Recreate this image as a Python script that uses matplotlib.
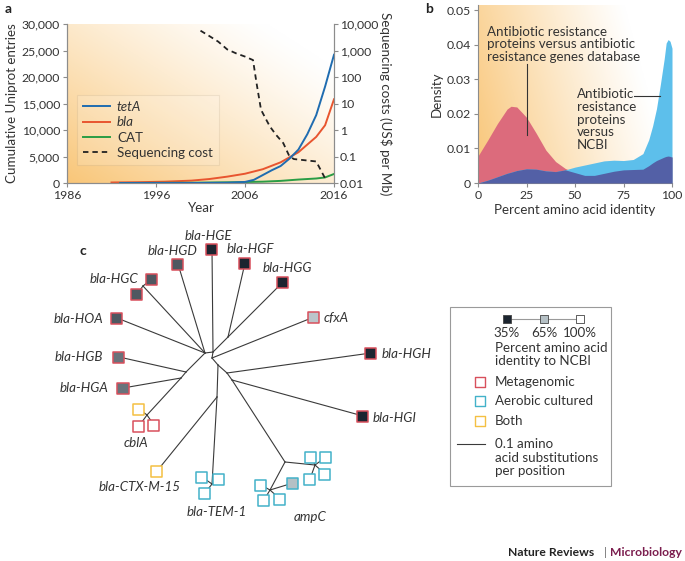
import numpy as np
import matplotlib
matplotlib.use("Agg")
import matplotlib.pyplot as plt
from matplotlib.lines import Line2D
from matplotlib.patches import Rectangle
from matplotlib.colors import LinearSegmentedColormap

plt.rcParams['font.family'] = ['Lato', 'DejaVu Sans']
TXT = '#333333'
SPINE = '#8c8c8c'

# ---- panel a data
tet_years = [1992, 2000, 2004, 2006, 2007, 2008, 2009, 2010, 2011, 2012, 2013, 2014, 2015, 2016]
tet_vals = [0, 0, 50, 200, 600, 1500, 2400, 3200, 4600, 6300, 9200, 12800, 18200, 24200]
bla_years = [1991, 1994, 1997, 2000, 2002, 2004, 2006, 2008, 2010, 2012, 2014, 2015, 2016]
bla_vals = [100, 150, 250, 450, 750, 1200, 1750, 2600, 3900, 5800, 8700, 10900, 15800]
cat_years = [1992, 2000, 2005, 2008, 2010, 2012, 2013, 2014, 2015, 2016]
cat_vals = [0, 50, 150, 250, 400, 650, 750, 850, 1050, 1700]
seq_years = [2001, 2002, 2003, 2004, 2005, 2006, 2006.9, 2007.3, 2007.8, 2008.4, 2008.8,
             2009.5, 2010.3, 2011, 2011.5, 2014, 2015]
seq_cost = [5600, 3500, 2150, 1100, 780, 590, 435, 58, 5.8, 2.4, 1.35,
            0.65, 0.32, 0.1, 0.08, 0.065, 0.015]

# ---- panel b data
pct = [0, 5, 10, 15, 17, 20, 25, 30, 35, 40, 45, 50, 55, 60, 65, 70, 75, 80, 85,
       88, 90, 92, 94, 96, 97, 98, 99, 100]
dens_arg = [0.0078, 0.0124, 0.0172, 0.0214, 0.0222, 0.0220, 0.0190, 0.0144, 0.0095,
            0.0062, 0.0042, 0.0030, 0.0022, 0.0022, 0.0028, 0.0034, 0.0038, 0.0039,
            0.0040, 0.0050, 0.0058, 0.0065, 0.0070, 0.0075, 0.0077, 0.0078, 0.0077, 0.0075]
dens_ncbi = [0.0, 0.0008, 0.0018, 0.0028, 0.0031, 0.0036, 0.0041, 0.0040, 0.0035,
             0.0033, 0.0038, 0.0046, 0.0052, 0.0058, 0.0064, 0.0066, 0.0065, 0.0068,
             0.0085, 0.0125, 0.0165, 0.0215, 0.0285, 0.036, 0.0405, 0.0415, 0.041, 0.039]

# ---- panel c tree (layout, pixel units)
nodes = {
    'A': (205, 353), 'B': (213, 352), 'C': (212, 358), 'D': (218, 365),
    'E': (227, 373), 'F': (232, 380), 'G': (217, 397), 'P1': (186, 372),
    'P2': (181, 378), 'hgc': (143, 286), 'fg': (228, 337), 'cbl': (147, 415),
    'tem': (212, 484), 'amp': (285, 462), 'amp1': (315, 465), 'amp2': (270, 490),
}
# leaf: name, x, y, percent identity to NCBI, source
leaves = [
    ('HGE', 212, 249, 35, 'M'), ('HGD', 178, 264, 45, 'M'), ('HGF', 245, 263, 35, 'M'),
    ('HGG', 283, 282, 35, 'M'), ('HGC1', 152, 279, 45, 'M'), ('HGC2', 137, 294, 45, 'M'),
    ('HOA', 117, 318, 45, 'M'), ('HGB', 119, 357, 50, 'M'), ('HGA', 123, 388, 50, 'M'),
    ('cfxA', 314, 317, 68, 'M'), ('HGH', 371, 353, 35, 'M'), ('HGI', 363, 416, 35, 'M'),
    ('cbl1', 139, 409, 100, 'B'), ('cbl2', 139, 426, 100, 'M'), ('cbl3', 154, 425, 100, 'M'),
    ('CTX', 157, 471, 100, 'B'),
    ('tem1', 202, 477, 100, 'A'), ('tem2', 219, 479, 100, 'A'), ('tem3', 205, 493, 100, 'A'),
    ('ampa', 311, 457, 100, 'A'), ('ampb', 326, 457, 100, 'A'), ('ampc', 310, 479, 100, 'A'),
    ('ampd', 325, 474, 100, 'A'), ('ampe', 261, 485, 100, 'A'), ('ampf', 264, 500, 100, 'A'),
    ('ampg', 280, 499, 100, 'A'), ('amph', 293, 483, 65, 'A'),
]
edges = [
    ('A', 'B'), ('B', 'C'), ('C', 'D'), ('D', 'E'), ('E', 'F'), ('D', 'G'),
    ('A', 'HOA'), ('A', 'hgc'), ('hgc', 'HGC1'), ('hgc', 'HGC2'), ('A', 'HGD'),
    ('B', 'HGE'), ('B', 'fg'), ('fg', 'HGF'), ('fg', 'HGG'),
    ('C', 'cfxA'), ('E', 'HGH'), ('F', 'HGI'), ('F', 'amp'), ('amp', 'amp1'), ('amp', 'amp2'),
    ('amp1', 'ampa'), ('amp1', 'ampb'), ('amp1', 'ampc'), ('amp1', 'ampd'),
    ('amp2', 'ampe'), ('amp2', 'ampf'), ('amp2', 'ampg'), ('amp2', 'amph'),
    ('A', 'P1'), ('P1', 'HGB'), ('P1', 'P2'), ('P2', 'HGA'), ('P2', 'cbl'),
    ('cbl', 'cbl1'), ('cbl', 'cbl2'), ('cbl', 'cbl3'),
    ('G', 'CTX'), ('G', 'tem'), ('tem', 'tem1'), ('tem', 'tem2'), ('tem', 'tem3'),
]
tree_labels = [
    ('bla-HGE', 208, 236, 'center'), ('bla-HGD', 173, 251, 'center'),
    ('bla-HGF', 227, 249, 'left'), ('bla-HGG', 263, 268, 'left'),
    ('bla-HGC', 138, 279, 'right'), ('bla-HOA', 103, 319, 'right'),
    ('bla-HGB', 103, 357, 'right'), ('bla-HGA', 108, 388, 'right'),
    ('cfxA', 324, 318, 'left'), ('bla-HGH', 382, 354, 'left'),
    ('bla-HGI', 373, 418, 'left'), ('cblA', 136, 443, 'center'),
    ('bla-CTX-M-15', 140, 487, 'center'), ('bla-TEM-1', 217, 512, 'center'),
    ('ampC', 310, 517, 'center'),
]

W, H = 685, 561
FS = 9.6
fig = plt.figure(figsize=(6.85, 5.61), dpi=100)


def px_box(x0, y0, x1, y1):
    return [x0 / W, 1 - y1 / H, (x1 - x0) / W, (y1 - y0) / H]


def gradient(ax, extent, wx, wy, power):
    u = np.linspace(0, 1, 300)[None, :]
    v = np.linspace(0, 1, 300)[:, None]
    w = np.clip(1 - (wx * u + wy * v), 0, 1) ** power
    orange = np.array([249, 198, 120]) / 255
    img = 1 - w[..., None] * (1 - orange)
    ax.imshow(img, extent=extent, origin='lower', aspect='auto', zorder=0)


def style_axis(ax):
    for s in ax.spines.values():
        s.set_color(SPINE)
        s.set_linewidth(0.8)
    ax.tick_params(colors=SPINE, labelcolor=TXT, labelsize=8.8, length=3, width=0.8, pad=2)


# tree axes covering the whole figure, drawn first
axc = fig.add_axes([0, 0, 1, 1])
axc.set_xlim(0, W)
axc.set_ylim(H, 0)
axc.axis('off')
axc.patch.set_alpha(0)

# ---------------- panel a
axa = fig.add_axes(px_box(67, 24, 334, 183))
gradient(axa, (1986, 2016, 0, 30000), 0.6, 0.55, 1.2)
axa.plot(bla_years, bla_vals, color='#e8552f', lw=1.4, zorder=2)
axa.plot(cat_years, cat_vals, color='#2a9d45', lw=1.4, zorder=2)
axa.plot(tet_years, tet_vals, color='#1f6cb0', lw=1.4, zorder=3)
axa.set_xlim(1986, 2016)
axa.set_ylim(0, 30000)
axa.set_xticks([1986, 1996, 2006, 2016])
axa.set_yticks(range(0, 30001, 5000))
axa.set_yticklabels([f'{v:,}' for v in range(0, 30001, 5000)])
axa.spines['top'].set_visible(False)
style_axis(axa)
axa.set_ylabel('Cumulative Uniprot entries', fontsize=FS, color=TXT, labelpad=3)
axa.set_xlabel('Year', fontsize=FS, color=TXT, labelpad=1)

axr = axa.twinx()
axr.plot(seq_years, seq_cost, color='#222222', lw=1.3, ls=(0, (3, 2.2)))
axr.set_yscale('log')
axr.set_ylim(0.01, 10000)
rticks = [0.01, 0.1, 1, 10, 100, 1000, 10000]
axr.set_yticks(rticks)
axr.set_yticklabels(['0.01', '0.1', '1', '10', '100', '1,000', '10,000'])
axr.minorticks_off()
axr.spines['top'].set_visible(False)
style_axis(axr)
axr.tick_params(axis='y', pad=1)
axr.set_ylabel('Sequencing costs (US$ per Mb)', fontsize=FS, color=TXT,
               rotation=-90, labelpad=10)

handles = [Line2D([], [], color='#1f6cb0', lw=1.4), Line2D([], [], color='#e8552f', lw=1.4),
           Line2D([], [], color='#2a9d45', lw=1.4),
           Line2D([], [], color='#222222', lw=1.3, ls=(0, (3, 2.2)))]
leg = axr.legend(handles, ['tetA', 'bla', 'CAT', 'Sequencing cost'], loc='upper left',
                 bbox_to_anchor=(77 / W, 1 - 95 / H), bbox_transform=fig.transFigure,
                 borderaxespad=0, fontsize=FS, frameon=True, fancybox=False,
                 handlelength=2.0, labelspacing=0.25, borderpad=0.45, handletextpad=0.55)
leg.get_frame().set_edgecolor('#9a8a70')
leg.get_frame().set_linewidth(0.8)
leg.get_frame().set_facecolor('white')
leg.get_frame().set_alpha(0.15)
for i, t in enumerate(leg.get_texts()):
    t.set_color(TXT)
    if i < 2:
        t.set_style('italic')

fig.text(5 / W, 1 - 9 / H, 'a', fontsize=10, fontweight='bold', color='#222222', va='center')

# ---------------- panel b
axb = fig.add_axes(px_box(478, 5, 672, 183))
gradient(axb, (0, 100, 0, 0.0515), 1.0, 0.25, 1.1)
lo = np.minimum(dens_arg, dens_ncbi)
axb.fill_between(pct, 0, dens_arg, color='#dc6b7c', lw=0, zorder=2)
axb.fill_between(pct, 0, dens_ncbi, color='#5dbfeb', lw=0, zorder=2)
axb.fill_between(pct, 0, lo, color='#5360a6', lw=0, zorder=3)
axb.set_xlim(0, 100)
axb.set_ylim(0, 0.0515)
axb.set_xticks([0, 25, 50, 75, 100])
axb.set_yticks([0, 0.01, 0.02, 0.03, 0.04, 0.05])
axb.set_yticklabels(['0', '0.01', '0.02', '0.03', '0.04', '0.05'])
axb.spines['top'].set_visible(False)
axb.spines['right'].set_visible(False)
style_axis(axb)
axb.set_ylabel('Density', fontsize=FS, color=TXT, labelpad=3)
axb.set_xlabel('Percent amino acid identity', fontsize=FS, color=TXT, labelpad=2)
axb.text(4.6, 0.0455, 'Antibiotic resistance\nproteins versus antibiotic\nresistance genes database',
         fontsize=FS, color=TXT, va='top', ha='left', linespacing=1.07, zorder=5)
axb.plot([25, 25], [0.0345, 0.0138], color='#333333', lw=0.8, zorder=5)
axb.text(51, 0.0274, 'Antibiotic\nresistance\nproteins\nversus\nNCBI',
         fontsize=FS, color=TXT, va='top', ha='left', linespacing=1.07, zorder=5)
axb.plot([80.5, 94], [0.0251, 0.0251], color='#333333', lw=0.8, zorder=5)
fig.text(425 / W, 1 - 9 / H, 'b', fontsize=10, fontweight='bold', color='#222222', va='center')

# ---------------- panel c
ident_cmap = LinearSegmentedColormap.from_list(
    'ident', [(0, '#1c2530'), (0.4615, '#b5c0c5'), (1, '#ffffff')])
src_color = {'M': '#d8505c', 'A': '#43b2c9', 'B': '#f4c043'}

pos = dict(nodes)
for name, x, y, ident, src in leaves:
    pos[name] = (x, y)
for a, b in edges:
    (x0, y0), (x1, y1) = pos[a], pos[b]
    axc.plot([x0, x1], [y0, y1], color='#3a3a3a', lw=0.8, zorder=1)

msize = (11 * 72 / 100) ** 2
axc.scatter([l[1] for l in leaves], [l[2] for l in leaves], marker='s', s=msize,
            c=[(l[3] - 35) / 65 for l in leaves], cmap=ident_cmap, vmin=0, vmax=1,
            edgecolors=[src_color[l[4]] for l in leaves], linewidths=1.1, zorder=3)
for text, x, y, ha in tree_labels:
    axc.text(x, y, text, fontsize=FS, style='italic', color=TXT, ha=ha, va='center')

fig.text(79 / W, 1 - 251 / H, 'c', fontsize=10, fontweight='bold', color='#222222', va='center')

# legend box for panel c
axc.add_patch(Rectangle((450, 307), 161, 179, fill=False, edgecolor='#9a9a9a', lw=0.8))
scale_pct = [35, 65, 100]
scale_x = [507, 544, 580]
axc.plot([scale_x[0], scale_x[-1]], [319, 319], color='#9a9a9a', lw=0.8, zorder=1)
axc.scatter(scale_x, [319] * 3, marker='s', s=(8 * 72 / 100) ** 2,
            c=[(p - 35) / 65 for p in scale_pct], cmap=ident_cmap, vmin=0, vmax=1,
            edgecolors='#444444', linewidths=0.6, zorder=3)
for p, x in zip(scale_pct, scale_x):
    axc.text(x, 333, f'{p}%', fontsize=FS, color=TXT, ha='center', va='center')
for line, y in zip(['Percent amino acid', 'identity to NCBI'], [348, 361]):
    axc.text(495, y, line, fontsize=FS, color=TXT, ha='left', va='center')
for (lab, src), y in zip([('Metagenomic', 'M'), ('Aerobic cultured', 'A'), ('Both', 'B')],
                         [382, 401, 421]):
    axc.scatter([480], [y], marker='s', s=(10 * 72 / 100) ** 2, facecolors='white',
                edgecolors=src_color[src], linewidths=1.0, zorder=3)
    axc.text(495, y, lab, fontsize=FS, color=TXT, ha='left', va='center')
axc.plot([457, 485], [444, 444], color='#3a3a3a', lw=0.8)
for line, y in zip(['0.1 amino', 'acid substitutions', 'per position'], [444, 457.5, 471]):
    axc.text(495, y, line, fontsize=FS, color=TXT, ha='left', va='center')

# footer
fig.text(508 / W, 1 - 552 / H, 'Nature Reviews', fontsize=8.7, fontweight='bold',
         color='#222222', va='center')
fig.text(605 / W, 1 - 552 / H, '|', fontsize=8.7, color='#777777', va='center', ha='center')
fig.text(682 / W, 1 - 552 / H, 'Microbiology', fontsize=8.7, fontweight='bold',
         color='#7b1d4e', va='center', ha='right')

fig.savefig('out.png', dpi=100)
